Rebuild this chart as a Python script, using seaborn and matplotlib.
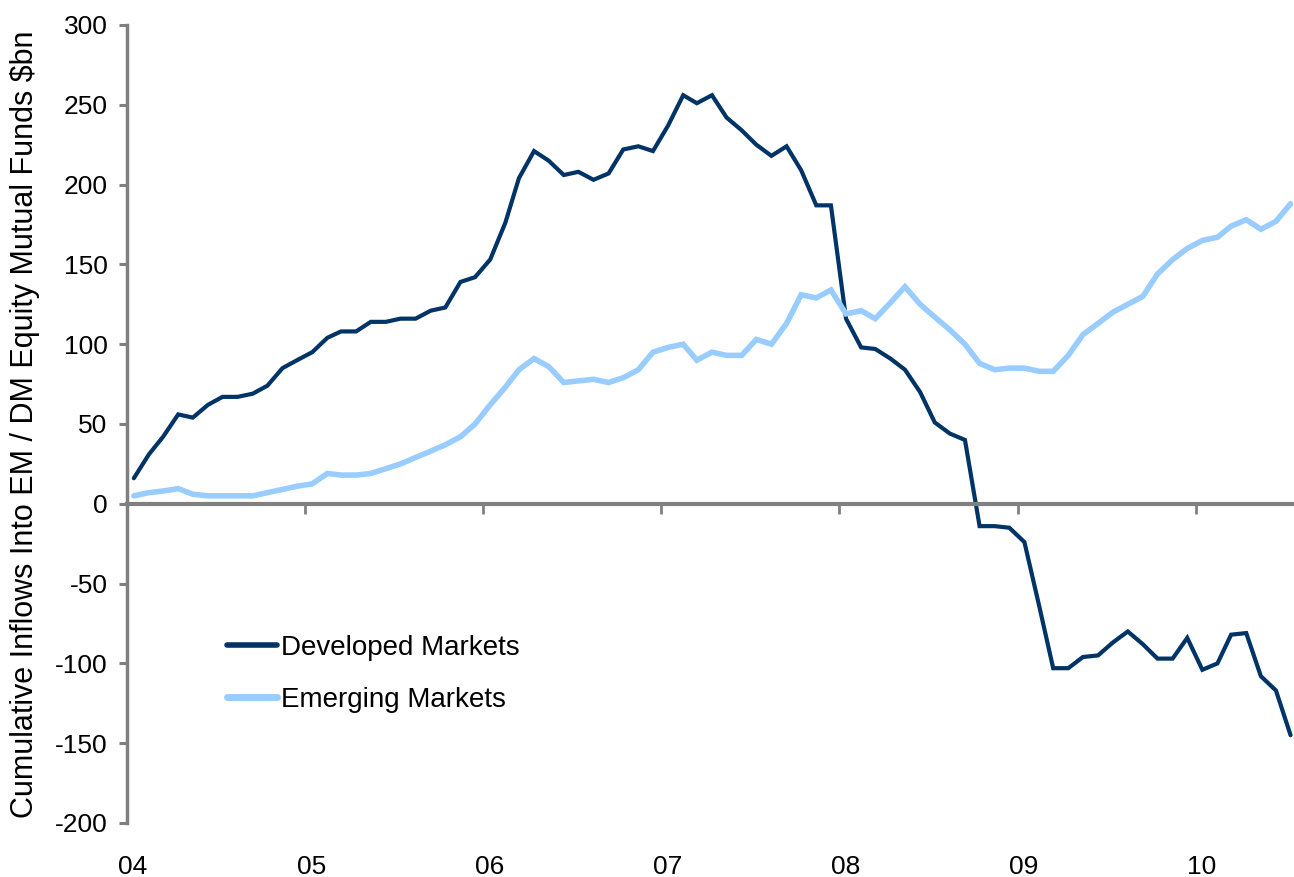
import numpy as np
import pandas as pd
import matplotlib
matplotlib.use("Agg")
import matplotlib.pyplot as plt
import matplotlib.dates as mdates
from matplotlib.transforms import ScaledTranslation
import seaborn as sns

# ---- data (monthly, Jan 2004 - Jul 2010), cumulative inflows $bn ----
dates = pd.date_range("2004-01-01", "2010-07-01", freq="MS") + pd.Timedelta(days=14)

developed = [16, 31, 42, 56, 54, 62, 67, 67, 69, 74, 85, 90,
             95, 104, 108, 108, 114, 114, 116, 116, 121, 123, 139, 142,
             153, 176, 204, 221, 215, 206, 208, 203, 207, 222, 224, 221,
             237, 256, 251, 256, 242, 234, 225, 218, 224, 209, 187, 187,
             116, 98, 97, 91, 84, 70, 51, 44, 40, -14, -14, -15,
             -24, -65, -103, -103, -96, -95, -87, -80, -88, -97, -97, -84,
             -104, -100, -82, -81, -108, -117, -145]

emerging = [5, 7, 8, 9.5, 6, 5, 5, 5, 5, 7, 9, 11,
            12.5, 19, 18, 18, 19, 22, 25, 29, 33, 37, 42, 50,
            62, 73, 84, 91, 86, 76, 77, 78, 76, 79, 84, 95,
            98, 100, 90, 95, 93, 93, 103, 100, 113, 131, 129, 134,
            119, 121, 116, 126, 136, 125, 117, 109, 100, 88, 84, 85,
            85, 83, 83, 93, 106, 113, 120, 125, 130, 144, 153, 160,
            165, 167, 174, 178, 172, 177, 188]

series_names = ["Developed Markets", "Emerging Markets"]
series_colors = ["#003366", "#99CCFF"]
y_ticks = [-200, -150, -100, -50, 0, 50, 100, 150, 200, 250, 300]
y_label = "Cumulative Inflows Into EM / DM Equity Mutual Funds $bn"

df = pd.concat([
    pd.DataFrame({"date": dates, "value": developed, "series": series_names[0]}),
    pd.DataFrame({"date": dates, "value": emerging, "series": series_names[1]}),
])

sns.set_style("white")
plt.rcParams["font.family"] = ["Liberation Sans", "DejaVu Sans"]
plt.rcParams["axes.unicode_minus"] = False
plt.rcParams["text.color"] = "black"

W, H = 1294, 877
fig = plt.figure(figsize=(W / 100, H / 100), dpi=100)
ax = fig.add_axes([127 / W, 1 - 823 / H, 1 - 127 / W, (823 - 25) / H])

sns.lineplot(data=df, x="date", y="value", hue="series", hue_order=series_names,
             palette=series_colors, ax=ax, legend=True)
lws = [3.0, 4.0]
for line, lw in zip(ax.get_lines(), lws):
    line.set_linewidth(lw)
    line.set_solid_joinstyle("miter")

ax.set_ylim(-200, 300)
ax.set_xlim(pd.Timestamp("2004-01-01"), pd.Timestamp("2010-07-22"))
ax.set_yticks(y_ticks)
ax.set_xlabel("")
ax.set_ylabel("")

grey = "#808080"
for s in ["top", "right"]:
    ax.spines[s].set_visible(False)
ax.spines["left"].set_color(grey)
ax.spines["left"].set_linewidth(2.5)
ax.spines["bottom"].set_position(("data", 0))
ax.spines["bottom"].set_color(grey)
ax.spines["bottom"].set_linewidth(3)

ax.xaxis.set_major_locator(mdates.YearLocator())
ax.tick_params(axis="x", bottom=True, direction="out", length=7.5, width=2,
               color=grey, labelbottom=False)
ax.tick_params(axis="y", left=True, direction="out", length=6, width=2.2,
               color=grey, labelsize=19, pad=8, labelcolor="black")

sax = ax.secondary_xaxis("bottom")
sax.spines["bottom"].set_visible(False)
sax.xaxis.set_major_locator(mdates.YearLocator())
sax.xaxis.set_major_formatter(mdates.DateFormatter("%y"))
sax.tick_params(bottom=True, length=0, pad=23, labelsize=19, labelcolor="black")
offset = ScaledTranslation(6 / 100, 0, fig.dpi_scale_trans)
for lab in sax.get_xticklabels():
    lab.set_transform(lab.get_transform() + offset)

fig.text(25 / W, 1 - 424 / H, y_label, rotation=90, ha="center", va="center",
         fontsize=22, color="black")

handles, labels = ax.get_legend_handles_labels()
leg = ax.legend(handles, labels, loc="center left",
                bbox_to_anchor=(227 / W, 1 - 674 / H), bbox_transform=fig.transFigure,
                frameon=False, borderpad=0, borderaxespad=0, handlelength=1.8,
                handletextpad=0.15, labelspacing=0.95, fontsize=20)
for lh, lw in zip(leg.get_lines(), lws):
    lh.set_linewidth(lw + 1)
for t in leg.get_texts():
    t.set_color("black")

fig.savefig("out.png", dpi=100, facecolor="white")
